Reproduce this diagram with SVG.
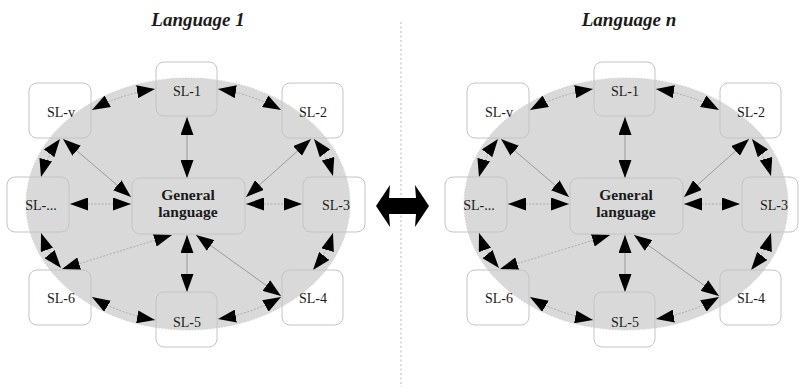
<svg xmlns="http://www.w3.org/2000/svg" width="799" height="387" viewBox="0 0 799 387">
<style>
.bg{fill:#d9d9d9;stroke:#c6c6c6;stroke-width:0.8;stroke-dasharray:1.5,1.5}
.box{fill:none;stroke:#c4c4c4;stroke-width:1}
.lbl{font-size:14px;fill:#1a1a1a;text-anchor:middle}
.gen{font-size:15.5px;font-weight:bold;fill:#1a1a1a;text-anchor:middle}
.title{font-size:19px;font-weight:bold;font-style:italic;fill:#1a1a1a;text-anchor:middle}
.c{fill:none;stroke:#8a8a8a;stroke-width:0.8;marker-start:url(#ah);marker-end:url(#ah)}
.d{stroke-dasharray:2,1.5;stroke:#a0a0a0}
.div{stroke:#d0d0d0;stroke-width:1.5;stroke-dasharray:2,2.5}
</style>
<defs>
<marker id="ah" markerWidth="18" markerHeight="13" refX="18" refY="6.5" orient="auto-start-reverse" markerUnits="userSpaceOnUse" viewBox="0 0 18 13">
<path d="M0,0 L18,6.5 L0,13 z" fill="#000"/>
</marker>
</defs>

<line class="div" x1="401" y1="22" x2="401" y2="387"/>

<g font-family="'Liberation Serif', 'Times New Roman', 'DejaVu Serif', serif">
<text class="title" x="198" y="26">Language 1</text>
<text class="title" x="629" y="26">Language n</text>

<!-- Left diagram -->
<g id="left">
<ellipse id="left-area" class="bg" cx="188" cy="204" rx="162" ry="126"/>
<g id="left-connectors">
<line class="c" x1="187" y1="117" x2="187" y2="178"/>
<line class="c" x1="63" y1="139" x2="131" y2="197"/>
<line class="c d" x1="70" y1="204" x2="131" y2="204"/>
<line class="c" x1="246" y1="197" x2="311" y2="139"/>
<line class="c d" x1="246" y1="204" x2="302" y2="204"/>
<line class="c d" x1="172" y1="235" x2="62" y2="269"/>
<line class="c" x1="187" y1="235" x2="187" y2="292"/>
<line class="c" x1="196" y1="235" x2="281" y2="296"/>
<path class="c d" d="M92,110 A162,126 0 0 1 155,89"/>
<path class="c d" d="M218,89 A162,126 0 0 1 281,110"/>
<path class="c d" d="M314,139 A162,126 0 0 1 333,176"/>
<path class="c d" d="M333,233 A162,126 0 0 1 313,270"/>
<path class="c d" d="M281,297 A162,126 0 0 1 218,319"/>
<path class="c d" d="M155,320 A162,126 0 0 1 92,297"/>
<path class="c d" d="M61,268 A162,126 0 0 1 41,233"/>
<path class="c d" d="M41,177 A162,126 0 0 1 60,139"/>
</g>
<g id="L-SL1"><rect class="box" x="156" y="62" width="61" height="54" rx="8"/><text class="lbl" x="187" y="96">SL-1</text></g>
<g id="L-SLv"><rect class="box" x="29" y="83" width="62" height="55" rx="8"/><text class="lbl" x="61" y="117">SL-v</text></g>
<g id="L-SL2"><rect class="box" x="282" y="83" width="61" height="55" rx="8"/><text class="lbl" x="313" y="117">SL-2</text></g>
<g id="L-SLdots"><rect class="box" x="7" y="177" width="62" height="55" rx="8"/><text class="lbl" x="41" y="210">SL-...</text></g>
<g id="L-General"><rect class="box" x="132" y="178" width="113" height="56" rx="8"/><text class="gen" x="188" y="200">General</text><text class="gen" x="188" y="217">language</text></g>
<g id="L-SL3"><rect class="box" x="303" y="177" width="62" height="55" rx="8"/><text class="lbl" x="336" y="210">SL-3</text></g>
<g id="L-SL6"><rect class="box" x="29" y="270" width="62" height="55" rx="8"/><text class="lbl" x="61" y="303">SL-6</text></g>
<g id="L-SL5"><rect class="box" x="156" y="292" width="61" height="55" rx="8"/><text class="lbl" x="187" y="327">SL-5</text></g>
<g id="L-SL4"><rect class="box" x="282" y="270" width="61" height="55" rx="8"/><text class="lbl" x="313" y="303">SL-4</text></g>
</g>

<!-- Right diagram -->
<g id="right" transform="translate(438,0)">
<ellipse id="right-area" class="bg" cx="188" cy="204" rx="162" ry="126"/>
<g id="right-connectors">
<line class="c" x1="187" y1="117" x2="187" y2="178"/>
<line class="c" x1="63" y1="139" x2="131" y2="197"/>
<line class="c d" x1="70" y1="204" x2="131" y2="204"/>
<line class="c" x1="246" y1="197" x2="311" y2="139"/>
<line class="c d" x1="246" y1="204" x2="302" y2="204"/>
<line class="c d" x1="172" y1="235" x2="62" y2="269"/>
<line class="c" x1="187" y1="235" x2="187" y2="292"/>
<line class="c" x1="196" y1="235" x2="281" y2="296"/>
<path class="c d" d="M92,110 A162,126 0 0 1 155,89"/>
<path class="c d" d="M218,89 A162,126 0 0 1 281,110"/>
<path class="c d" d="M314,139 A162,126 0 0 1 333,176"/>
<path class="c d" d="M333,233 A162,126 0 0 1 313,270"/>
<path class="c d" d="M281,297 A162,126 0 0 1 218,319"/>
<path class="c d" d="M155,320 A162,126 0 0 1 92,297"/>
<path class="c d" d="M61,268 A162,126 0 0 1 41,233"/>
<path class="c d" d="M41,177 A162,126 0 0 1 60,139"/>
</g>
<g id="R-SL1"><rect class="box" x="156" y="62" width="61" height="54" rx="8"/><text class="lbl" x="187" y="96">SL-1</text></g>
<g id="R-SLv"><rect class="box" x="29" y="83" width="62" height="55" rx="8"/><text class="lbl" x="61" y="117">SL-v</text></g>
<g id="R-SL2"><rect class="box" x="282" y="83" width="61" height="55" rx="8"/><text class="lbl" x="313" y="117">SL-2</text></g>
<g id="R-SLdots"><rect class="box" x="7" y="177" width="62" height="55" rx="8"/><text class="lbl" x="41" y="210">SL-...</text></g>
<g id="R-General"><rect class="box" x="132" y="178" width="113" height="56" rx="8"/><text class="gen" x="188" y="200">General</text><text class="gen" x="188" y="217">language</text></g>
<g id="R-SL3"><rect class="box" x="304" y="177" width="56" height="55" rx="8"/><text class="lbl" x="336" y="210">SL-3</text></g>
<g id="R-SL6"><rect class="box" x="29" y="270" width="62" height="55" rx="8"/><text class="lbl" x="61" y="303">SL-6</text></g>
<g id="R-SL5"><rect class="box" x="156" y="292" width="61" height="55" rx="8"/><text class="lbl" x="187" y="327">SL-5</text></g>
<g id="R-SL4"><rect class="box" x="282" y="270" width="61" height="55" rx="8"/><text class="lbl" x="313" y="303">SL-4</text></g>
</g>
</g>

<!-- Mapping arrow between languages -->
<g id="mapping-arrow">
<polygon points="376,206 390,185 389,198 416,198 415,185 429,206 415,227 416,214 389,214 390,227" fill="#000"/>
</g>
</svg>
